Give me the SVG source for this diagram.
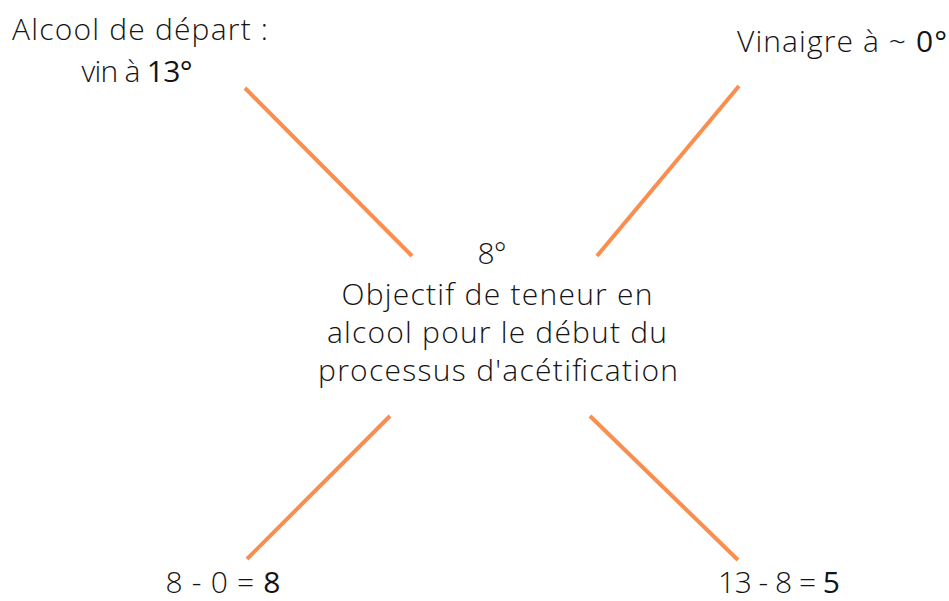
<svg xmlns="http://www.w3.org/2000/svg" width="949" height="601" viewBox="0 0 949 601">
<style>
.t{font-family:"Open Sans","Noto Sans","Liberation Sans",sans-serif;font-size:30px;font-weight:300;fill:#141414;text-anchor:middle}
.b{font-weight:500}
.c{stroke:#F98E4E;stroke-width:4;stroke-linecap:butt}
</style>
<rect width="949" height="601" fill="#ffffff"/>
<g id="connectors">
<line class="c" x1="245" y1="88" x2="412" y2="256"/>
<line class="c" x1="739" y1="86" x2="597" y2="256"/>
<line class="c" x1="390" y1="416" x2="247" y2="559"/>
<line class="c" x1="590" y1="416" x2="738" y2="560"/>
</g>
<g id="start">
<text class="t" x="140" y="40" textLength="256">Alcool de départ :</text>
<text class="t" x="137" y="82" textLength="111">vin à <tspan class="b">13°</tspan></text>
</g>
<g id="vinegar">
<text class="t" x="842" y="52" textLength="210">Vinaigre à ~ <tspan class="b">0°</tspan></text>
</g>
<g id="target">
<text class="t" x="492" y="264" textLength="29">8°</text>
<text class="t" x="497" y="305" textLength="311">Objectif de teneur en</text>
<text class="t" x="497" y="343" textLength="340">alcool pour le début du</text>
<text class="t" x="498" y="381" textLength="360">processus d'acétification</text>
</g>
<g id="wine-parts">
<text class="t" x="223" y="593" textLength="115">8 - 0 = <tspan class="b">8</tspan></text>
</g>
<g id="vinegar-parts">
<text class="t" x="779" y="593" textLength="122">13 - 8 = <tspan class="b">5</tspan></text>
</g>
</svg>
